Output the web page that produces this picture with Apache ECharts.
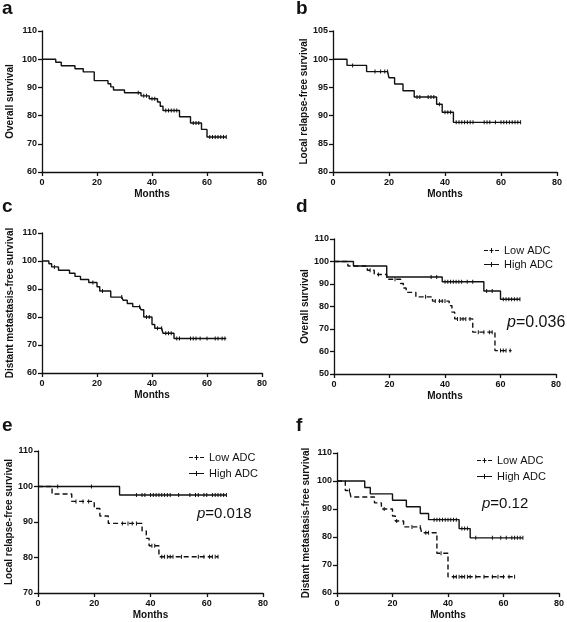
<!DOCTYPE html>
<html><head><meta charset="utf-8">
<script src="https://cdn.jsdelivr.net/npm/echarts@6/dist/echarts.min.js"></script>
<style>html,body{margin:0;padding:0;background:#fff}#c{width:567px;height:622px}</style>
</head><body><div id="c"></div><script>
// ---- data (months, survival %) ----
const xTicks = [0, 20, 40, 60, 80];
const aSteps = [[0,100],[5,98.9],[7,97.7],[12,96.6],[15,95.5],[19,92.4],[24,91.3],[25,90.2],[26,89.1],[30,88.1],[36,87.0],[39,86.0],[42,84.8],[43,83.3],[44,81.8],[50,79.6],[54,77.4],[58,75.1],[60,72.4],[67,72.4]];
const aCens = [35,37,38,40,41,45,46,47,48,49,55,56,57,61,62,63,64,65,66,67];
const bSteps = [[0,100],[5,98.9],[12,97.8],[20,96.7],[22,95.6],[25,94.4],[29,93.3],[37,92.0],[39,90.6],[43,88.8],[67,88.8]];
const bCens = [7,15,17,18.5,19.5,30,31,34,35,36,38,40,41,42,44,45,46,47,48,49,50,54,55,56,58,60,61,62,63,64,65,66,67];
const cSteps = [[0,100],[2.5,99],[3.5,97.9],[6,96.7],[10,95.6],[12,94.5],[14,93.4],[17,92.3],[20,90.8],[21,89.3],[25,87.1],[29.5,86],[31,84.8],[33,83.7],[36,82.6],[37,80],[40,77.3],[41,76],[44,74.2],[48,72.3],[67,72.3]];
const cCens = [4.5,18.5,22,29,35.5,38,39,42,43.5,45,46,47,49,50,54,55,56,57.5,60,63,64,65.5,66.5];
const dLowSteps = [[0,100],[5,98],[12,96.1],[14.5,94.2],[19,92.1],[24,90.2],[25,88.2],[26,86.3],[29.5,84.3],[35.5,82.4],[41.5,80.4],[42.5,77.5],[43.5,74.5],[50,68.6],[58,60.4],[64,60.4]];
const dLowCens = [13,16,22,33,36.5,38,39,40,44.5,45.5,46.5,47.5,49,52,54,56,57,60,61,62,63.5];
const dHighSteps = [[0,100],[7,98],[19,93.1],[39,91],[54,86.9],[60,83.2],[67,83.2]];
const dHighCens = [35,37,40,41,42,43,44,45,46,48,50,55,57,61,62,63,64,65,66,67];
const eLowSteps = [[0,100],[5,97.9],[12,95.8],[20,93.8],[22,91.7],[25,89.6],[37,87.5],[38.5,85.4],[39.5,83.3],[43,80.2],[64,80.2]];
const eLowCens = [13.5,16,18,30,32,33.5,35,40.5,41.5,44,45,46,47,48,51,57,59,61,62,63,64];
const eHighSteps = [[0,100],[29,97.6],[67,97.6]];
const eHighCens = [7,19,35,37,38,40,41,42,43,44,45,46,47,50,54,56,57,59,60,62,63,64,65,66,67];
const fLowSteps = [[0,100],[3,96.6],[5,94.3],[13.5,92.2],[16,90],[20,87.5],[21,85.7],[24,83.6],[30.5,81.5],[36,74.2],[40,65.8],[64,65.8]];
const fLowCens = [4.5,17,21.5,27,30,32,33,37.5,42,43,44,45,46,47,48,50,53,56,58,60,62,64];
const fHighSteps = [[0,100],[10,97.7],[12,95.4],[20,93.1],[25,90.8],[30,88.4],[33,86.2],[44,83],[48,79.7],[67,79.7]];
const fHighCens = [35,36,37,38,39,40,41,42,43,45,46,47,50,56,59,61,63,64,65,66,67];
const yRanges = [[60,110,10],[80,105,5],[60,110,10],[50,110,10],[70,110,10],[60,110,10]];
const yNames = ['Overall survival','Local relapse-free survival','Distant metastasis-free survival','Overall survival','Local relapse-free survival','Distant metastasis-free survival'];
const letters = ['a','b','c','d','e','f'];
const pTexts = ['0.036','0.018','0.12'];
const legendNames = ['Low ADC','High ADC'];

// ---- layout ----
const FF = '"Liberation Sans", Arial, sans-serif';
const grids = [
  {left:42, top:31, width:220, height:141},
  {left:333, top:31, width:224, height:141},
  {left:42, top:233, width:220, height:140},
  {left:334, top:239, width:222, height:135},
  {left:38, top:451, width:225, height:142},
  {left:337, top:453, width:223, height:140}
];
const nameGaps = [27, 22, 27, 24, 23, 26];
const letterPos = [[2,-1],[296,-1],[2,197],[296,197],[2,416],[296,416]];
const pPos = [[507,315,16],[197,506,15],[482,496,15]];
const legendPos = [[484,245,3],[189,452,5],[477,455,5]];

function stepVal(steps, t) { let v = steps[0][1]; for (const p of steps) if (p[0] <= t) v = p[1]; return v; }
function build(steps, cens) {
  const pts = steps.map((p, i) => ({value: [p[0], p[1]], symbol: 'none', k: p[0], o: 0}));
  cens.forEach(t => pts.push({value: [t, stepVal(steps, t)], k: t, o: 1}));
  pts.sort((a, b) => a.k - b.k || a.o - b.o);
  return pts.map(p => p.symbol ? {value: p.value, symbol: p.symbol} : {value: p.value});
}
const curves = [
  [0, aSteps, aCens, 'A', false], [1, bSteps, bCens, 'B', false], [2, cSteps, cCens, 'C', false],
  [3, dLowSteps, dLowCens, legendNames[0], true], [3, dHighSteps, dHighCens, legendNames[1], false],
  [4, eLowSteps, eLowCens, legendNames[0], true], [4, eHighSteps, eHighCens, legendNames[1], false],
  [5, fLowSteps, fLowCens, legendNames[0], true], [5, fHighSteps, fHighCens, legendNames[1], false]
];
const axisLine = {show: true, onZero: false, lineStyle: {color: '#111', width: 1.3}};
const axisTick = {show: true, length: 4, lineStyle: {color: '#111', width: 1.3}};
const option = {
  backgroundColor: '#fff',
  animation: false,
  grid: grids.map(g => Object.assign({containLabel: false}, g)),
  xAxis: grids.map((g, i) => ({
    type: 'value', gridIndex: i, min: xTicks[0], max: xTicks[xTicks.length-1], interval: xTicks[1]-xTicks[0],
    name: 'Months', nameLocation: 'middle', nameGap: 17,
    nameTextStyle: {fontSize: 10, fontWeight: 'bold', color: '#111', fontFamily: FF},
    axisLine, axisTick, splitLine: {show: false},
    axisLabel: {fontSize: 9, fontWeight: 'bold', color: '#111', fontFamily: FF, margin: 6}
  })),
  yAxis: grids.map((g, i) => ({
    type: 'value', gridIndex: i, min: yRanges[i][0], max: yRanges[i][1], interval: yRanges[i][2],
    name: yNames[i], nameLocation: 'middle', nameGap: nameGaps[i],
    nameTextStyle: {fontSize: 10, fontWeight: 'bold', color: '#111', fontFamily: FF},
    axisLine, axisTick, splitLine: {show: false},
    axisLabel: {fontSize: 9, fontWeight: 'bold', color: '#111', fontFamily: FF, margin: 5}
  })),
  title: letters.map((l, i) => ({
    text: l, left: letterPos[i][0], top: letterPos[i][1], padding: 0,
    textStyle: {fontSize: 19, fontWeight: 'bold', color: '#111', fontFamily: FF}
  })).concat(pTexts.map((p, i) => ({
    text: '{i|p}=' + p, left: pPos[i][0], top: pPos[i][1], padding: 0,
    textStyle: {fontSize: pPos[i][2], fontWeight: 'normal', color: '#111', fontFamily: FF,
      rich: {i: {fontStyle: 'italic', fontSize: pPos[i][2], color: '#111', fontFamily: FF}}}
  }))),
  legend: legendPos.map(lp => ({
    left: lp[0], top: lp[1], orient: 'vertical', itemWidth: 15, itemHeight: 8, itemGap: lp[2],
    selectedMode: false, padding: 0,
    textStyle: {fontSize: 11, color: '#111', fontFamily: FF},
    itemStyle: {borderWidth: 0, color: '#111'},
    data: [
      {name: legendNames[0], icon: 'path://M0,3.4H4V4.6H0Z M5.5,3.4H9.5V4.6H5.5Z M11,3.4H15V4.6H11Z M7,1.5H8V6.5H7Z'},
      {name: legendNames[1], icon: 'path://M0,3.4H15V4.6H0Z M7,1.5H8V6.5H7Z'}
    ]
  })),
  series: curves.map(c => ({
    type: 'line', name: c[3], xAxisIndex: c[0], yAxisIndex: c[0], step: 'end',
    data: build(c[1], c[2]), symbol: 'rect', symbolSize: [1, 4], showSymbol: true, showAllSymbol: true,
    lineStyle: {color: '#111', width: 1.4, type: c[4] ? [5, 3] : 'solid'},
    itemStyle: {color: '#111'}, silent: true, clip: false
  }))
};
const chart = echarts.init(document.getElementById('c'), null, {renderer: 'canvas'});
chart.setOption(option);
</script></body></html>
